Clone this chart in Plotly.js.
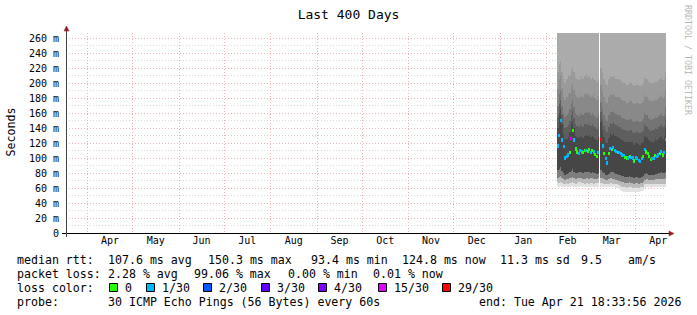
<!DOCTYPE html>
<html><head><meta charset="utf-8">
<script src="https://cdn.plot.ly/plotly-3.0.1.min.js"></script>
<style>html,body{margin:0;padding:0;background:#fff;}#chart{width:697px;height:315px;}</style>
</head><body><div id="chart"></div>
<script>
// ---------- data (daily bins from 2026-02-08) ----------
const firstDay = '2026-02-08';
const medRtt = [116,130,150.3,124,115,100,102,104,107,126,
  137,124,112,108,106,110,108,107,110,110,
  109,111,107,110,108,105,102,107,
  null,
  125,116,106,99,93.4,106,113,111,114,110,109,
  107,107,106,104,103,101,100,100,102,101,
  100,96,100,99,97,95,99,102,111,108,
  106,102,98,99,100,103,102,104,106,109,104,107,124.8];
const lossCount = [1,1,1,1,1,1,1,1,0,15,
  0,1,0,0,1,1,1,0,0,1,
  0,0,1,0,1,0,0,1,
  null,
  29,1,0,1,1,0,1,0,1,1,1,
  0,1,1,1,1,0,0,1,0,1,
  1,0,1,1,1,1,1,0,1,0,
  0,0,0,1,1,0,1,1,0,1,0,1,1];
const smokeMin = [63,62,63,62,61,62,62,61,62,62,
  63,62,61,62,62,63,62,62,61,62,
  62,61,62,62,61,62,62,62,
  null,
  62,62,61,61,61,61,62,62,61,61,60,
  60,59,58,56,55,55,55,55,55,55,
  55,55,55,55,55,56,56,57,60,61,
  61,61,60,61,61,61,61,61,61,61,61,61,61];
const smokeP5 = [68,67,68,67,66,66,67,66,67,67,
  68,67,66,67,68,68,67,67,66,67,
  67,66,67,67,66,67,67,67,
  null,
  67,67,66,66,66,66,67,67,66,66,65,
  65,64,63,62,61,61,60,61,61,61,
  60,60,61,60,60,61,61,62,65,66,
  66,66,65,66,66,66,66,66,66,66,66,66,66];
const smokeP15 = [74,75,76,73,72,71,72,72,73,74,
  75,73,72,73,74,74,73,72,72,73,
  73,72,73,73,72,72,72,73,
  null,
  74,73,72,71,71,72,73,73,72,72,71,
  71,70,69,68,68,67,67,67,68,67,
  67,66,67,67,66,67,67,68,71,72,
  72,71,71,71,71,72,72,72,72,72,72,72,73];
const smokeP30 = [84,86,88,83,80,78,79,80,81,83,
  85,82,80,80,81,82,81,80,81,82,
  81,81,80,81,80,80,79,80,
  null,
  84,82,80,78,77,79,81,81,81,80,79,
  79,78,77,76,76,75,75,75,76,75,
  75,74,75,75,74,74,75,76,79,80,
  79,78,77,78,78,79,79,80,80,81,80,80,82];
const smokeP70 = [140,160,165,145,132,125,126,128,135,145,
  150,140,130,128,127,130,128,127,130,131,
  129,131,128,130,128,126,124,128,
  null,
  148,138,128,122,120,127,132,131,133,130,129,
  128,127,126,124,123,122,121,121,122,122,
  121,118,120,120,119,118,120,122,130,128,
  127,124,121,122,122,125,124,126,128,130,126,128,140];
const smokeP78 = [155,172,178,158,146,140,142,144,150,158,
  164,154,145,143,141,145,143,142,145,146,
  144,146,143,145,143,141,139,143,
  null,
  161,152,143,137,135,142,147,146,148,145,144,
  143,142,141,139,138,137,136,136,137,137,
  135,133,135,135,134,133,135,137,145,143,
  142,139,136,137,137,140,139,141,143,145,141,143,154];
const smokeP85 = [170,185,190,170,160,155,158,160,165,172,
  178,168,160,158,156,160,158,157,160,162,
  160,162,158,160,158,156,154,158,
  null,
  175,166,158,152,150,157,162,161,163,160,159,
  158,157,156,154,153,152,151,151,152,152,
  150,148,150,150,149,148,150,152,160,158,
  157,154,151,152,152,155,154,156,158,160,156,158,168];
const smokeP90 = [192,205,210,192,182,177,181,185,187,195,
  200,191,184,181,180,184,182,181,185,187,
  184,186,182,184,181,180,178,182,
  null,
  197,190,182,176,174,181,186,184,186,184,182,
  181,181,180,178,176,176,174,174,176,176,
  174,172,174,174,173,172,174,176,184,182,
  181,178,176,176,176,179,178,180,182,184,180,182,191];
const smokeP95 = [215,225,230,215,205,200,205,210,210,218,
  222,215,208,205,204,208,206,205,210,212,
  208,210,206,208,205,204,202,206,
  null,
  220,214,206,200,198,205,210,208,210,208,206,
  205,205,204,202,200,200,198,198,200,200,
  198,196,198,198,197,196,198,200,208,206,
  205,202,200,200,200,203,202,204,206,208,204,206,215];
const smokeMax = [330,340,350,330,320,310,315,320,320,330,
  335,330,320,315,315,320,315,315,320,320,
  320,320,315,320,315,315,310,315,
  null,
  335,325,315,305,300,315,320,320,320,318,316,
  315,315,312,310,305,305,300,300,305,305,
  300,298,300,300,298,298,300,305,318,315,
  315,310,305,305,305,310,308,312,315,318,312,315,330];

const yTickVals = [0,20,40,60,80,100,120,140,160,180,200,220,240,260];
const yTickText = ['0','20 m','40 m','60 m','80 m','100 m','120 m','140 m','160 m','180 m','200 m','220 m','240 m','260 m'];

const lossLabels = ['0','1/30','2/30','3/30','4/30','15/30','29/30'];
const lossLevels = [0,1,2,3,4,15,29];
const lossColors = ['#26ff00','#00b8ff','#0059ff','#5e00ff','#7e00ff','#dd00ff','#ff0000'];

const rttStats = ['median rtt:','107.6 ms avg','150.3 ms max','93.4 ms min','124.8 ms now','11.3 ms sd','9.5','am/s'];
const lossStats = ['packet loss:','2.28 % avg','99.06 % max','0.00 % min','0.01 % now'];
const probeRow = ['probe:','30 ICMP Echo Pings (56 Bytes) every 60s','end: Tue Apr 21 18:33:56 2026'];
const chartTitle = 'Last 400 Days';
const yTitle = 'Seconds';
const watermark = 'RRDTOOL / TOBI OETIKER';

// ---------- build ----------
const DAY = 86400000;
const t0 = Date.parse(firstDay + 'T12:00:00Z');
const days = medRtt.map((_, i) => new Date(t0 + i * DAY).toISOString().slice(0, 16).replace('T', ' '));

function band(lo, hi, color) {
  return {
    type: 'bar', x: days,
    base: lo.map((v, i) => (v == null || hi[i] == null) ? null : v),
    y: lo.map((v, i) => (v == null || hi[i] == null) ? null : hi[i] - v),
    width: days.map(() => DAY),
    marker: {color: color, line: {width: 0}},
    hoverinfo: 'skip', showlegend: false
  };
}
const traces = [
  band(smokeMin, smokeP5, '#e2e2e2'),
  band(smokeP5, smokeP15, '#bababa'),
  band(smokeP15, smokeP30, '#7e7e7e'),
  band(smokeP30, medRtt, '#464646'),
  band(medRtt, smokeP70, '#494949'),
  band(smokeP70, smokeP78, '#5e5e5e'),
  band(smokeP78, smokeP85, '#747474'),
  band(smokeP85, smokeP90, '#898989'),
  band(smokeP90, smokeP95, '#9a9a9a'),
  band(smokeP95, smokeMax, '#ababab')
];
function lossColor(c) {
  if (c == null) return '#000';
  let k = 0;
  lossLevels.forEach((lv, j) => { if (c >= lv) k = j; });
  return lossColors[k];
}
traces.push({
  type: 'bar', x: days,
  base: medRtt.map(v => v == null ? null : v - 2.3),
  y: medRtt.map(v => v == null ? null : 4.6),
  width: days.map(() => DAY),
  marker: {color: lossCount.map(lossColor), line: {width: 0}},
  hoverinfo: 'skip', showlegend: false
});

// layout helpers (pixel -> paper)
const ML = 66, MT = 33, PW = 600, PH = 200;
const px = p => (p - ML) / PW;
const py = p => (MT + PH - p) / PH;
const mono = 'DejaVu Sans Mono, monospace';
const legFont = {family: mono, size: 11.6, color: '#000'};
const annotations = [];
function txt(x, y, text, extra) {
  annotations.push(Object.assign({xref: 'paper', yref: 'paper', x: px(x - 1), y: py(y),
    xanchor: 'left', yanchor: 'middle', text: text, showarrow: false, font: legFont}, extra || {}));
}
const rttX = [16,107,207,310,401,499,580,627];
rttStats.forEach((s, i) => txt(rttX[i], 259.5, s));
const lossX = [16,107,193,287,372];
lossStats.forEach((s, i) => txt(lossX[i], 273.5, s));
txt(16, 287.5, 'loss color:');
const boxX = [109,146,203,261,318,378,442];
const shapes = [];
lossLabels.forEach((s, i) => {
  shapes.push({type: 'rect', xref: 'paper', yref: 'paper',
    x0: px(boxX[i] + 0.5), x1: px(boxX[i] + 8.5), y0: py(283.5), y1: py(291.5),
    fillcolor: lossColors[i], line: {color: '#000', width: 1}});
  txt(boxX[i] + 15, 287.5, s);
});
txt(16, 301.5, probeRow[0]);
txt(107, 301.5, probeRow[1]);
txt(478, 301.5, probeRow[2]);
annotations.push({xref: 'paper', yref: 'paper', x: px(10.5), y: py(132), text: yTitle,
  textangle: -90, showarrow: false, xanchor: 'center', yanchor: 'middle',
  font: {family: mono, size: 11.6, color: '#000'}});
annotations.push({xref: 'paper', yref: 'paper', x: px(688), y: py(60), text: watermark,
  textangle: 90, showarrow: false, xanchor: 'center', yanchor: 'middle',
  font: {family: mono, size: 8.3, color: '#b8b8b8'}});

// axes lines and arrows
const arrowCol = '#961e1e';
shapes.push({type: 'line', xref: 'paper', yref: 'paper', x0: px(62), x1: px(670), y0: py(233.5), y1: py(233.5), line: {color: '#000', width: 1}});
shapes.push({type: 'line', xref: 'paper', yref: 'paper', x0: px(66.5), x1: px(66.5), y0: py(237), y1: py(30), line: {color: '#404040', width: 1}});
shapes.push({type: 'path', xref: 'paper', yref: 'paper', fillcolor: arrowCol, line: {color: arrowCol, width: 0.5},
  path: `M ${px(66.5)} ${py(26)} L ${px(64)} ${py(31)} L ${px(69)} ${py(31)} Z`});
shapes.push({type: 'path', xref: 'paper', yref: 'paper', fillcolor: arrowCol, line: {color: arrowCol, width: 0.5},
  path: `M ${px(674)} ${py(233.5)} L ${px(669)} ${py(231)} L ${px(669)} ${py(236)} Z`});

const layout = {
  width: 697, height: 315,
  margin: {l: ML, r: 697 - ML - PW, t: MT, b: 315 - MT - PH, pad: 0},
  paper_bgcolor: '#ffffff', plot_bgcolor: '#ffffff',
  barmode: 'overlay', bargap: 0,
  showlegend: false,
  title: {text: chartTitle, x: 0.5, xref: 'container', xanchor: 'center',
    y: 1 - 14 / 315, yref: 'container', yanchor: 'middle',
    font: {family: mono, size: 13, color: '#000'}},
  xaxis: {type: 'date', range: ['2025-03-17 16:00', '2026-04-21 16:00'],
    tick0: '2025-04-01', dtick: 'M1', ticklabelmode: 'period', tickformat: '%b',
    showgrid: true, gridcolor: '#ecb4b4', griddash: '1px,2px', gridwidth: 1,
    zeroline: false, showline: false, ticks: '',
    tickfont: {family: mono, size: 10, color: '#000'}},
  yaxis: {range: [0, 266.667], tickmode: 'array', tickvals: yTickVals, ticktext: yTickText,
    showgrid: true, gridcolor: '#ecb4b4', griddash: '1px,2px', gridwidth: 1,
    minor: {tickmode: 'linear', tick0: 0, dtick: 10, showgrid: true, gridcolor: '#d8d8d8', griddash: '1px,2px', ticks: ''},
    zeroline: false, showline: false, ticks: '', ticklabelstandoff: 6,
    tickfont: {family: mono, size: 10, color: '#000'}},
  annotations: annotations,
  shapes: shapes
};
Plotly.newPlot('chart', traces, layout, {displayModeBar: false, responsive: false});
</script></body></html>
